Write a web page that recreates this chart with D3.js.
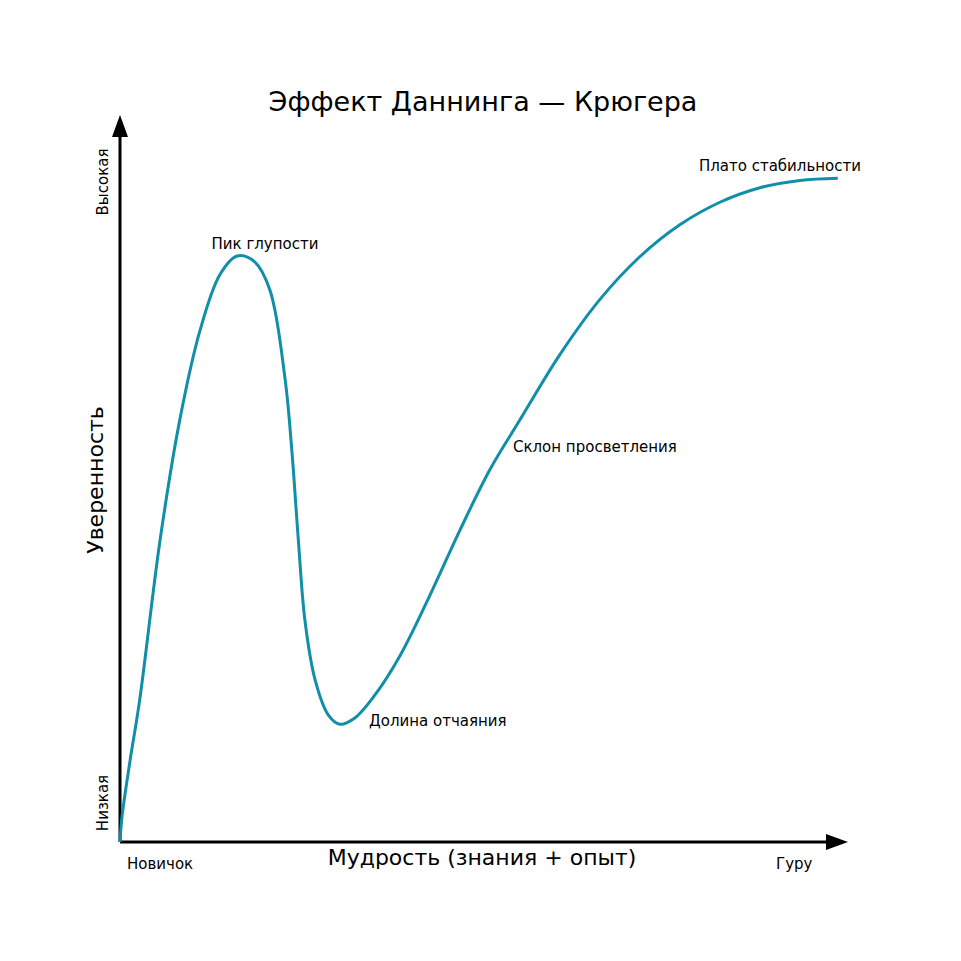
<!DOCTYPE html><html><head><meta charset="utf-8">
<script src="https://cdn.jsdelivr.net/npm/d3@7"></script>
<style>body{margin:0;background:#fff}text{font-family:"DejaVu Sans";fill:#000}</style></head><body>
<script>
const xs=[0,0.3,1.4,2.7,5.5,8.2,11,13.7,16.1,18.5,20.6,22.7,23.6,24.5,25.4,26.8,28.6,30.2,32.3,35,38.5,42.6,46.7,50.8,54.9,60.4,65.9,71.4,76.9,82.4,87.9,93.4,98.6];
const ys=[0,3.7,11.3,19.5,41.5,58,70.4,78,80.6,79.8,75.9,63.5,53.9,41.5,30.5,22.3,17.5,16.2,17.1,20.2,25.7,34,42.9,51.2,58,67,74.6,80.5,84.9,88,90,91,91.3];
const annotations=[["Пик глупости",16.1,80.6],["Долина отчаяния",30.2,16.2],["Склон просветления",54.9,58],["Плато стабильности",98.6,91.3]];
const title="Эффект Даннинга — Крюгера";
const svg=d3.select("body").append("svg").attr("width",961).attr("height",961);
const x=d3.scaleLinear().domain([0,100]).range([120,848]);
const y=d3.scaleLinear().domain([0,100]).range([842,115]);
svg.append("line").attr("x1",x(0)).attr("y1",y(0)).attr("x2",x(97)).attr("y2",y(0)).attr("stroke","#000").attr("stroke-width",3);
svg.append("line").attr("x1",x(0)).attr("y1",y(0)).attr("x2",x(0)).attr("y2",y(97)).attr("stroke","#000").attr("stroke-width",3);
svg.append("path").attr("d",`M${x(100)},${y(0)} L${x(100)-22},${y(0)-8} L${x(100)-22},${y(0)+8}Z`);
svg.append("path").attr("d",`M${x(0)},${y(100)} L${x(0)-8},${y(100)+22} L${x(0)+8},${y(100)+22}Z`);
svg.append("path").datum(xs.map((v,i)=>[v,ys[i]])).attr("fill","none").attr("stroke","#118ea8").attr("stroke-width",3)
 .attr("d",d3.line().x(d=>x(d[0])).y(d=>y(d[1])).curve(d3.curveCatmullRom));
svg.append("text").attr("x",483).attr("y",111).attr("text-anchor","middle").attr("font-size",27).text(title);
const lab=(t,X,Y,s,a,r)=>{const e=svg.append("text").attr("font-size",s).attr("text-anchor",a||"start").text(t);
 if(r)e.attr("transform",`translate(${X},${Y}) rotate(-90)`);else e.attr("x",X).attr("y",Y);};
lab("Пик глупости",265,249,15,"middle");
lab("Долина отчаяния",369,726,15);
lab("Склон просветления",513,452,15);
lab("Плато стабильности",780,171,15,"middle");
lab("Новичок",127,869,15);
lab("Гуру",776,869,15);
lab("Мудрость (знания + опыт)",482,865,22,"middle");
lab("Уверенность",103,480,22,"middle",true);
lab("Высокая",108,182,15,"middle",true);
lab("Низкая",108,803,15,"middle",true);
</script></body></html>
